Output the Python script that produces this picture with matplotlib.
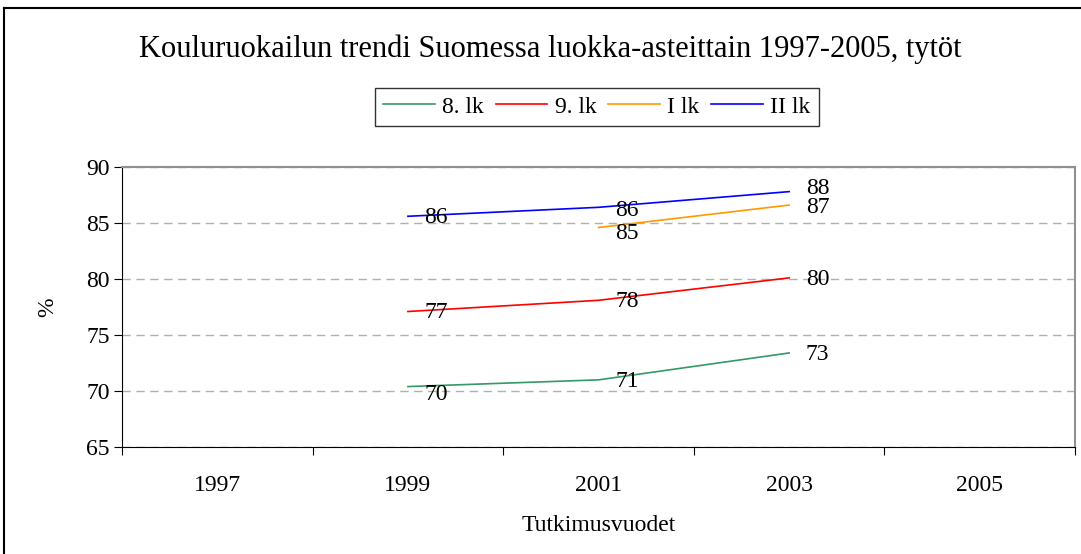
import numpy as np
import matplotlib
matplotlib.use("Agg")
import matplotlib.pyplot as plt
from matplotlib.lines import Line2D

plt.rcParams['font.family'] = ['Liberation Serif', 'DejaVu Serif']

years = ['1997', '1999', '2001', '2003', '2005']
lk8 = [np.nan, 70.4, 71.0, 73.4, np.nan]
lk9 = [np.nan, 77.1, 78.1, 80.1, np.nan]
lk1 = [np.nan, np.nan, 84.6, 86.6, np.nan]
lk2 = [np.nan, 85.6, 86.4, 87.8, np.nan]

series = [lk8, lk9, lk1, lk2]
labels = ['8. lk', '9. lk', 'I lk', 'II lk']
colors = ['#339966', '#ff0000', '#ff9900', '#0000ff']

# small vertical nudges (points) for value labels, to keep them apart
nudge = {(0, 1): -5, (3, 3): 3, (2, 3): -1, (3, 2): -1, (2, 2): -3}

fig = plt.figure(figsize=(10.81, 5.54), dpi=100)
ax = fig.add_axes([0.1129, 0.193, 0.8816, 0.5056])

x = np.arange(len(years))
for i, (vals, lab, col) in enumerate(zip(series, labels, colors)):
	ax.plot(x, vals, color=col, linewidth=1.2, label=lab)
	for xi, v in zip(x, vals):
		if not np.isnan(v):
			dy = nudge.get((i, xi), 0) - 1
			ax.annotate("%.0f" % v, (xi, v), xytext=(12, dy), textcoords='offset points',
						ha='left', va='center', fontsize=17)

ax.set_xlim(-0.5, 4.5)
ax.set_ylim(65, 90)
ax.set_yticks(np.arange(65, 91, 5))
ax.set_xticks(np.arange(-0.5, 4.6, 1))
ax.set_xticklabels([])
ax.set_xticks(x, minor=True)
ax.set_xticklabels(years, minor=True)
ax.tick_params(axis='x', which='minor', length=0, pad=20, labelsize=17)
ax.tick_params(axis='x', which='major', direction='out', length=6)
ax.tick_params(axis='y', direction='out', length=6, labelsize=17, pad=3)
ax.grid(axis='y', color='#b0b0b0', linestyle=(0, (6, 4)), linewidth=1)
for s in ['top', 'right']:
	ax.spines[s].set_color('#909090')
	ax.spines[s].set_linewidth(1.5)
ax.set_xlabel("Tutkimusvuodet", fontsize=17, labelpad=14)
ax.set_ylabel("%", fontsize=17, labelpad=20)

fig.suptitle("Kouluruokailun trendi Suomessa luokka-asteittain 1997-2005, tytöt",
			 x=0.509, y=0.937, fontsize=22)
leg = fig.legend(loc='center', bbox_to_anchor=(0.552, 0.807), ncol=4, fontsize=17,
				 frameon=True, fancybox=False, edgecolor='black', handlelength=2.2,
				 columnspacing=0.5, handletextpad=0.3, borderpad=0.35, borderaxespad=0)
leg.get_frame().set_linewidth(1)

# outer chart border (top and left edges are visible)
fig.add_artist(Line2D([0.004, 1.0], [0.986, 0.986], transform=fig.transFigure,
					  color='black', linewidth=1.5))
fig.add_artist(Line2D([0.004, 0.004], [0.0, 0.986], transform=fig.transFigure,
					  color='black', linewidth=1.5))

fig.savefig("out.png", dpi=100)
